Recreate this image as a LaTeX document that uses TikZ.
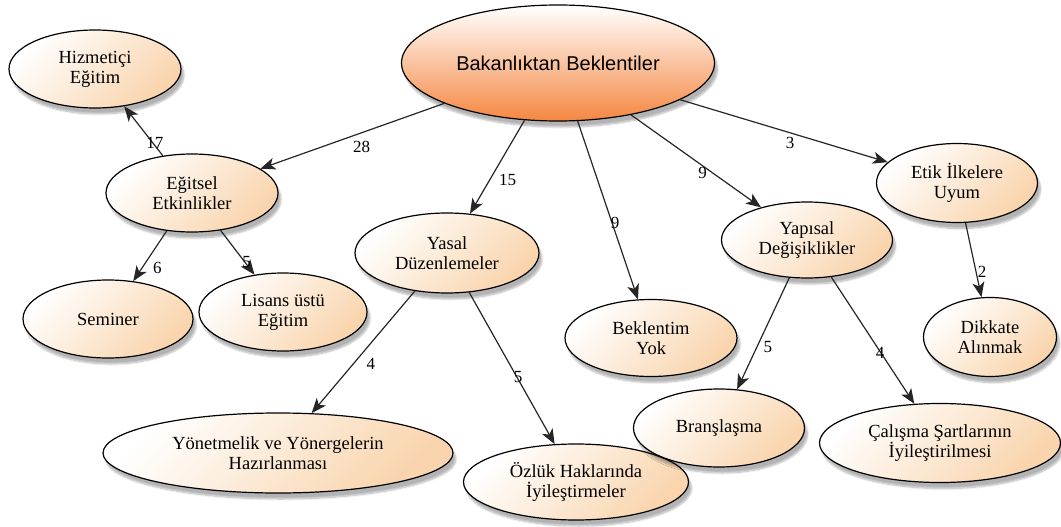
\documentclass[tikz,border=0pt]{standalone}
\usepackage{fontspec}
\setmainfont{Liberation Serif}
\newfontfamily\kavramyazi{Liberation Serif}
\newfontfamily\koksans{Liberation Sans}
\usetikzlibrary{shapes.geometric, arrows.meta, shadows.blur}
\definecolor{seftali}{RGB}{249,212,172}
\definecolor{turuncu}{RGB}{245,135,65}
\tikzset{
>={Stealth[length=15pt,width=12pt,inset=4pt]},
  kavram/.style={
    ellipse,
    draw=black, line width=1.2pt,
    top color=white, bottom color=seftali, shading angle=45,
    blur shadow={shadow xshift=3pt, shadow yshift=-6pt,
      shadow blur steps=8, shadow opacity=30},
    minimum width=172pt, minimum height=78pt,
    inner sep=0pt, align=center,
    font=\kavramyazi\fontsize{18.5}{20}\selectfont},
  anadugum/.style={kavram, bottom color=turuncu,
    font=\koksans\fontsize{20}{24}\selectfont},
  ok/.style={draw=black!85, line width=1.2pt, ->},
  sayi/.style={font=\kavramyazi\fontsize{17}{17}\selectfont, inner sep=0pt},
}
\begin{document}
\begin{tikzpicture}[x=1pt, y=-1pt]
\useasboundingbox (0,0) rectangle (1061,527);
% kavramlar
\node[anadugum, minimum width=313pt, minimum height=116pt] (kok) at (558,63) {Bakanlıktan Beklentiler};
\node[kavram] (hiz) at (95,69) {Hizmetiçi\\Eğitim};
\node[kavram] (egi) at (192,193) {Eğitsel\\Etkinlikler};
\node[kavram, minimum width=170pt] (sem) at (108,319) {Seminer};
\node[kavram, minimum width=168pt] (lis) at (283,312) {Lisans üstü\\Eğitim};
\node[kavram, minimum width=184pt, minimum height=80pt] (yas) at (447,253) {Yasal\\Düzenlemeler};
\node[kavram, minimum width=350pt, minimum height=80pt] (yon) at (278,453) {Yönetmelik ve Yönergelerin\\Hazırlanması};
\node[kavram, minimum width=225pt, minimum height=76pt] (ozl) at (576,482) {Özlük Haklarında\\İyileştirmeler};
\node[kavram, minimum height=77pt] (bek) at (651,338) {Beklentim\\Yok};
\node[kavram, minimum width=171pt, minimum height=76pt] (yap) at (807,240) {Yapısal\\Değişiklikler};
\node[kavram, minimum width=171pt] (bra) at (719,428) {Branşlaşma};
\node[kavram, minimum width=241pt, minimum height=79pt] (cal) at (940,443) {Çalışma Şartlarının\\İyileştirilmesi};
\node[kavram, minimum width=161pt, minimum height=79pt] (etik) at (957,183) {Etik İlkelere\\Uyum};
\node[kavram, minimum width=133pt, minimum height=79pt] (dik) at (990,337) {Dikkate\\Alınmak};
% oklar ve sayilar
\foreach \a/\b/\n/\p/\dx/\dy in {kok/egi/28/0.45/0/-14, egi/hiz/17/0.26/2/0,
  kok/yas/15/0.64/18/0, kok/bek/9/0.57/3/0, kok/yap/9/0.55/0/-7,
  kok/etik/3/0.53/0/-10, etik/dik/2/0.66/6/0, egi/sem/6/0.73/15/0,
  egi/lis/5/0.71/2/0, yas/yon/4/0.6/18/0, yas/ozl/5/0.56/1/0,
  yap/bra/5/0.62/11/0, yap/cal/4/0.6/-1/0}{
\draw[ok] (\a) -- node[sayi, pos=\p, xshift=\dx pt, yshift=\dy pt] {\n} (\b);
  }
\end{tikzpicture}
\end{document}
